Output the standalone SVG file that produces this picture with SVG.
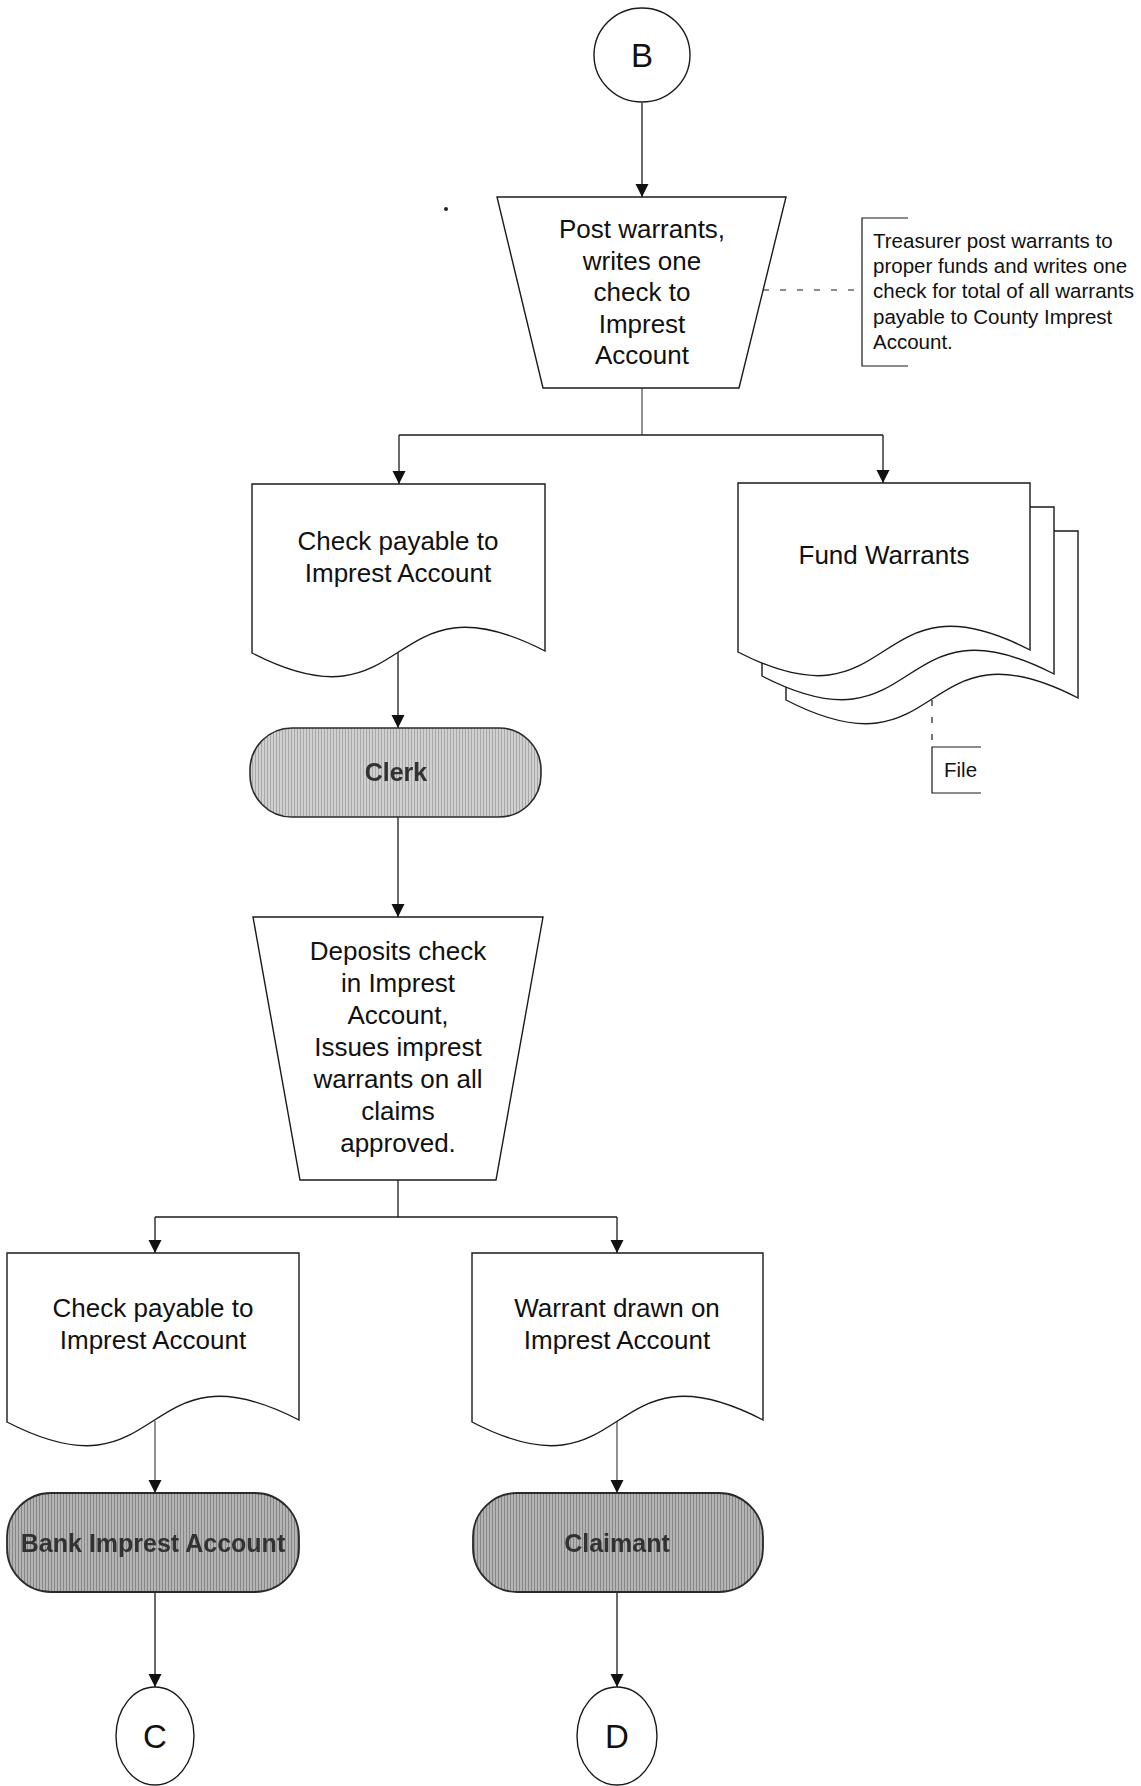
<svg xmlns="http://www.w3.org/2000/svg" width="1141" height="1786" viewBox="0 0 1141 1786">
  <style>
    .shape { fill: #ffffff; stroke: #1a1a1a; stroke-width: 1.4; }
    .ln { fill: none; stroke: #1a1a1a; stroke-width: 1.3; }
    .ln-soft { fill: none; stroke: #555555; stroke-width: 1.3; }
    .dash { fill: none; stroke: #1a1a1a; stroke-width: 1.2; stroke-dasharray: 6 11; }
    .bracket { fill: none; stroke: #1a1a1a; stroke-width: 1.2; }
    .t { font-family: "Liberation Sans", Arial, sans-serif; font-size: 26px; fill: #111111; text-anchor: middle; }
    .note { font-family: "Liberation Sans", Arial, sans-serif; font-size: 20.5px; fill: #111111; }
    .letter { font-family: "Liberation Sans", Arial, sans-serif; font-size: 33px; fill: #111111; text-anchor: middle; }
    .term-light { fill: url(#halftoneLight); stroke: #2a2a2a; stroke-width: 1.6; }
    .term-dark { fill: url(#halftoneDark); stroke: #2a2a2a; stroke-width: 1.8; }
    .tt { font-family: "Liberation Sans", Arial, sans-serif; font-size: 25px; font-weight: bold; fill: #333333; text-anchor: middle; filter: url(#soft); }
  </style>
  <defs>
    <marker id="ah" markerWidth="14" markerHeight="14" refX="13" refY="6.5" orient="auto" markerUnits="userSpaceOnUse">
      <path d="M0,0 L13,6.5 L0,13 Z" fill="#111111"/>
    </marker>
    <pattern id="halftoneLight" width="3" height="3" patternUnits="userSpaceOnUse">
      <rect width="3" height="3" fill="#d0d0d0"/>
      <rect width="1" height="3" fill="#a8a8a8"/>
    </pattern>
    <pattern id="halftoneDark" width="3" height="3" patternUnits="userSpaceOnUse">
      <rect width="3" height="3" fill="#b4b4b4"/>
      <rect width="1" height="3" fill="#868686"/>
    </pattern>
    <filter id="soft" x="-5%" y="-20%" width="110%" height="140%">
      <feGaussianBlur stdDeviation="0.6"/>
    </filter>
  </defs>

  <rect width="1141" height="1786" fill="#ffffff"/>

  <!-- connectors -->
  <g id="connectors">
    <path class="ln" d="M642,103 V197" marker-end="url(#ah)"/>
    <path class="ln-soft" d="M642,388 V435"/>
    <path class="ln" d="M399,435 H883"/>
    <path class="ln" d="M399,435 V484" marker-end="url(#ah)"/>
    <path class="ln" d="M883,435 V483" marker-end="url(#ah)"/>
    <path class="dash" d="M763,290 H862"/>
    <path class="dash" d="M932,700 V746"/>
    <path class="ln" d="M398,652 V728" marker-end="url(#ah)"/>
    <path class="ln" d="M398,817 V917" marker-end="url(#ah)"/>
    <path class="ln" d="M398,1180 V1217"/>
    <path class="ln" d="M155,1217 H617"/>
    <path class="ln" d="M155,1217 V1253" marker-end="url(#ah)"/>
    <path class="ln" d="M617,1217 V1253" marker-end="url(#ah)"/>
    <path class="ln-soft" d="M155,1421 V1493" marker-end="url(#ah)"/>
    <path class="ln-soft" d="M617,1421 V1493" marker-end="url(#ah)"/>
    <path class="ln" d="M155,1592 V1687" marker-end="url(#ah)"/>
    <path class="ln" d="M617,1592 V1687" marker-end="url(#ah)"/>
  </g>

  <!-- off-page connector B -->
  <g id="node-b">
    <ellipse class="shape" cx="642" cy="55" rx="48" ry="47"/>
    <text class="letter" x="642" y="67">B</text>
  </g>

  <!-- manual operation: treasurer posts warrants -->
  <g id="node-post-warrants">
    <path class="shape" d="M497,197 L786,197 L739,388 L543,388 Z"/>
    <text class="t" x="642" y="238">Post warrants,</text>
    <text class="t" x="642" y="269.5">writes one</text>
    <text class="t" x="642" y="301">check to</text>
    <text class="t" x="642" y="332.5">Imprest</text>
    <text class="t" x="642" y="364">Account</text>
  </g>

  <!-- annotation -->
  <g id="note-treasurer">
    <path class="bracket" d="M908,218 H862 V366 H908"/>
    <text class="note" x="873" y="248">Treasurer post warrants to</text>
    <text class="note" x="873" y="273">proper funds and writes one</text>
    <text class="note" x="873" y="298">check for total of all warrants</text>
    <text class="note" x="873" y="323.5">payable to County Imprest</text>
    <text class="note" x="873" y="349">Account.</text>
  </g>

  <!-- document: check payable to imprest account -->
  <g id="node-check-1">
    <path class="shape" d="M252,653 V484 H545 V651 C383.9,568 413.2,736 252,653 Z"/>
    <text class="t" x="398" y="550">Check payable to</text>
    <text class="t" x="398" y="582">Imprest Account</text>
  </g>

  <!-- multi-document: fund warrants -->
  <g id="node-fund-warrants">
    <path class="shape" d="M786,700 V531 H1078 V698 C917.4,615 946.6,783 786,700 Z"/>
    <path class="shape" d="M762,676 V507 H1054 V674 C893.4,591 922.6,759 762,676 Z"/>
    <path class="shape" d="M738,652 V483 H1030 V650 C869.4,567 898.6,735 738,652 Z"/>
    <text class="t" x="884" y="564">Fund Warrants</text>
  </g>

  <!-- annotation: file -->
  <g id="note-file">
    <path class="bracket" d="M981,747 H932 V793 H981"/>
    <text class="note" x="944" y="777">File</text>
  </g>

  <!-- terminator: clerk -->
  <g id="node-clerk">
    <rect class="term-light" x="250" y="728" width="291" height="89" rx="42" ry="42"/>
    <text class="tt" x="396" y="781">Clerk</text>
  </g>

  <!-- manual operation: clerk deposits check -->
  <g id="node-deposits">
    <path class="shape" d="M253,917 L543,917 L496,1180 L300,1180 Z"/>
    <text class="t" x="398" y="960">Deposits check</text>
    <text class="t" x="398" y="992">in Imprest</text>
    <text class="t" x="398" y="1024">Account,</text>
    <text class="t" x="398" y="1056">Issues imprest</text>
    <text class="t" x="398" y="1088">warrants on all</text>
    <text class="t" x="398" y="1120">claims</text>
    <text class="t" x="398" y="1152">approved.</text>
  </g>

  <!-- document: check payable to imprest account (copy) -->
  <g id="node-check-2">
    <path class="shape" d="M7,1422 V1253 H299 V1420 C138.4,1337 167.6,1505 7,1422 Z"/>
    <text class="t" x="153" y="1317">Check payable to</text>
    <text class="t" x="153" y="1349">Imprest Account</text>
  </g>

  <!-- document: warrant drawn on imprest account -->
  <g id="node-warrant">
    <path class="shape" d="M472,1422 V1253 H763 V1420 C603,1337 632,1505 472,1422 Z"/>
    <text class="t" x="617" y="1317">Warrant drawn on</text>
    <text class="t" x="617" y="1349">Imprest Account</text>
  </g>

  <!-- terminator: bank imprest account -->
  <g id="node-bank">
    <rect class="term-dark" x="7" y="1493" width="292" height="99" rx="44" ry="44"/>
    <text class="tt" x="153" y="1552">Bank Imprest Account</text>
  </g>

  <!-- terminator: claimant -->
  <g id="node-claimant">
    <rect class="term-dark" x="473" y="1493" width="290" height="99" rx="44" ry="44"/>
    <text class="tt" x="617" y="1552">Claimant</text>
  </g>

  <!-- off-page connectors C and D -->
  <g id="node-c">
    <ellipse class="shape" cx="155" cy="1736" rx="39" ry="49"/>
    <text class="letter" x="155" y="1748">C</text>
  </g>
  <g id="node-d">
    <ellipse class="shape" cx="617" cy="1736" rx="40" ry="49"/>
    <text class="letter" x="617" y="1748">D</text>
  </g>

  <!-- small ink speck -->
  <circle cx="446" cy="209" r="2" fill="#222222"/>
</svg>
